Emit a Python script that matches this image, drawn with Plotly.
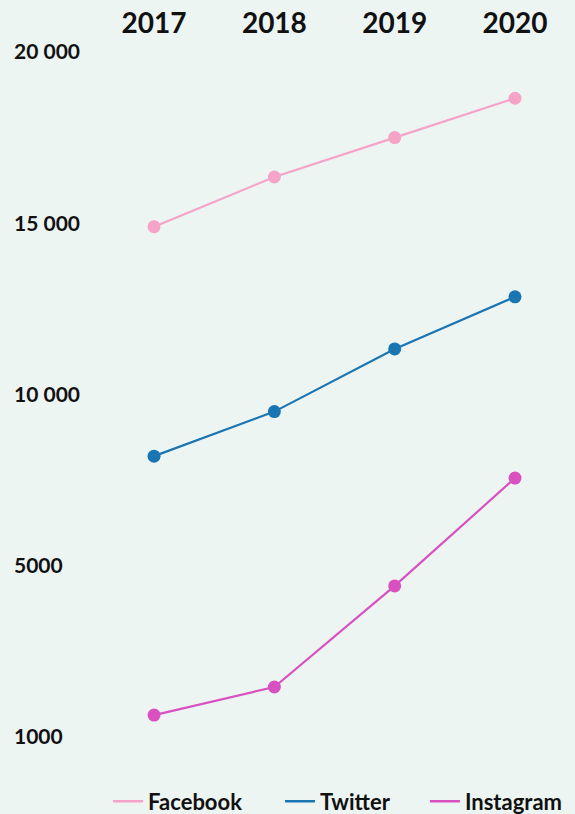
import plotly.graph_objects as go

years = ["2017", "2018", "2019", "2020"]
facebook = [14900, 16350, 17500, 18650]
twitter = [8200, 9500, 11330, 12850]
instagram = [640, 1460, 4410, 7560]
tick_vals = [0, 5000, 10000, 15000, 20000]
tick_text = ["1000", "5000", "10 000", "15 000", "20 000"]

series = [
    ("Facebook", facebook, "#f5a3c7", "legend", 0.188),
    ("Twitter", twitter, "#1a75b3", "legend2", 0.487),
    ("Instagram", instagram, "#d951c1", "legend3", 0.739),
]

font_family = "Lato"
fig = go.Figure()
legend_layout = {}
for name, vals, col, leg, lx in series:
    fig.add_trace(go.Scatter(
        x=years, y=vals, name=name, mode="lines+markers",
        line=dict(color=col, width=2.2),
        marker=dict(color=col, size=13),
        showlegend=False,
    ))
    # legend-only entry showing just the line
    fig.add_trace(go.Scatter(
        x=[None], y=[None], name=name, mode="lines",
        line=dict(color=col, width=2.5), legend=leg, showlegend=True,
    ))
    legend_layout[leg] = dict(
        orientation="h", xref="container", yref="container",
        x=lx, xanchor="left", y=0.0155, yanchor="middle",
        font=dict(family=font_family, size=22, color="#111", weight="bold"),
        itemwidth=30, bgcolor="rgba(0,0,0,0)",
    )

fig.update_layout(
    width=575, height=814,
    paper_bgcolor="#edf5f3", plot_bgcolor="#edf5f3",
    margin=dict(l=11, r=15, t=30, b=54, autoexpand=False),
    font=dict(family=font_family, color="#111"),
    **legend_layout,
)
fig.update_xaxes(
    type="category", side="top", range=[-1.189, 3.374], automargin=False,
    ticklabelstandoff=-10,
    showgrid=False, zeroline=False, showline=False, ticks="",
    tickfont=dict(family=font_family, size=28, color="#111", weight="bold"),
)
fig.update_yaxes(
    range=[-672, 20642], tickvals=tick_vals, ticktext=tick_text, automargin=False,
    ticklabelposition="inside", showgrid=False, zeroline=False, showline=False, ticks="",
    tickfont=dict(family=font_family, size=21, color="#111", weight="bold"),
)
fig.write_html("out.html", config={"displayModeBar": False},
               post_script="document.body.style.margin='0';")
